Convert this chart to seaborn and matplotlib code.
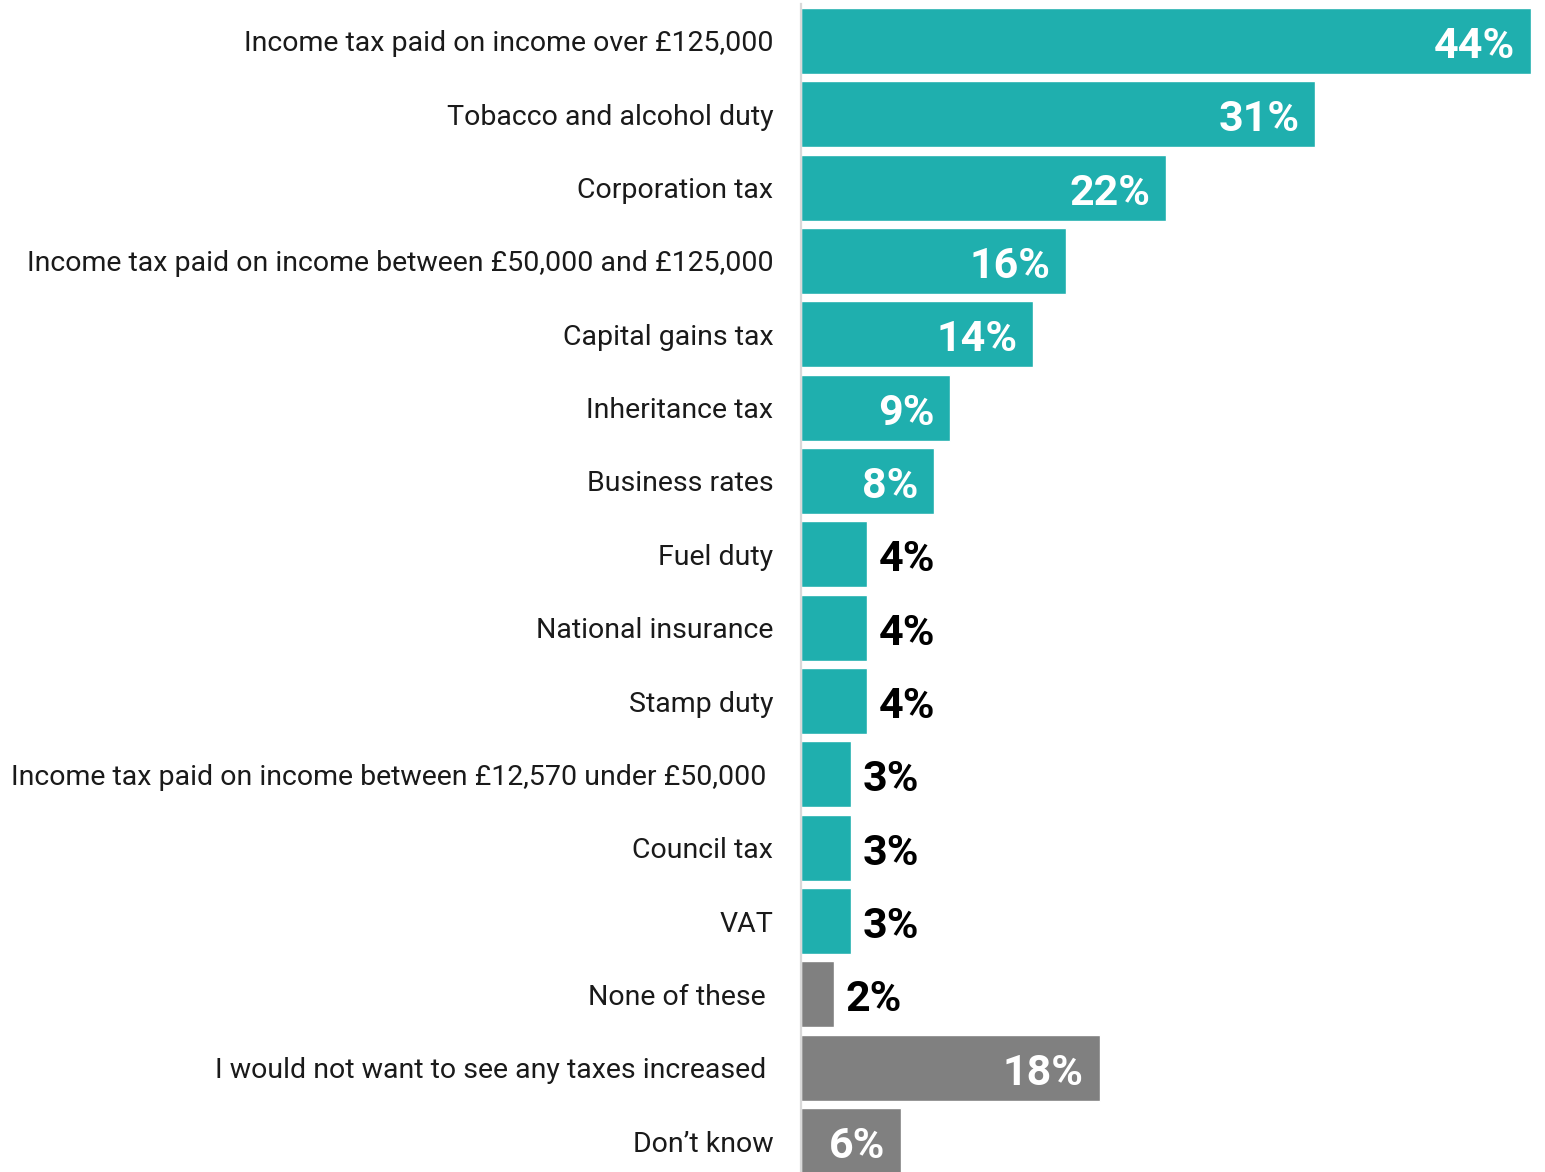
import matplotlib
matplotlib.use("Agg")
import matplotlib.pyplot as plt
import seaborn as sns
import pandas as pd

categories = [
    "Income tax paid on income over £125,000",
    "Tobacco and alcohol duty",
    "Corporation tax",
    "Income tax paid on income between £50,000 and £125,000",
    "Capital gains tax",
    "Inheritance tax",
    "Business rates",
    "Fuel duty",
    "National insurance",
    "Stamp duty",
    "Income tax paid on income between £12,570 under £50,000 ",
    "Council tax",
    "VAT",
    "None of these ",
    "I would not want to see any taxes increased ",
    "Don’t know",
]
values = [44, 31, 22, 16, 14, 9, 8, 4, 4, 4, 3, 3, 3, 2, 18, 6]
groups = ["tax"] * 13 + ["other"] * 3
palette = {"tax": "#1FAFAE", "other": "#808080"}

df = pd.DataFrame({"cat": categories, "val": values, "grp": groups})

sns.set_theme(style="white")
plt.rcParams["font.family"] = ["Roboto", "DejaVu Sans"]

fig = plt.figure(figsize=(15.45, 11.72), dpi=100)
ax = fig.add_axes([801 / 1545, -5.7 / 1172, 730 / 1545, 1173.4 / 1172])

sns.barplot(data=df, x="val", y="cat", hue="grp", palette=palette,
            dodge=False, width=0.9, legend=False, ax=ax, saturation=1)

ax.set_xlim(0, 44)
ax.set_ylim(len(categories) - 0.5, -0.5)
ax.set_xlabel("")
ax.set_ylabel("")
ax.set_xticks([])
ax.tick_params(axis="y", length=0, pad=20, labelsize=20.5, labelcolor="#1a1a1a")
for s in ["top", "right", "bottom"]:
    ax.spines[s].set_visible(False)
ax.spines["left"].set_color("#d9d9d9")
ax.spines["left"].set_linewidth(1.6)

for i, v in enumerate(values):
    if v >= 5:
        ax.text(v - 0.95, i + 0.23, f"{v}%", ha="right", va="baseline", color="white",
                fontsize=31, fontweight="bold")
    else:
        ax.text(v + 0.7, i + 0.23, f"{v}%", ha="left", va="baseline", color="black",
                fontsize=31, fontweight="bold")

fig.savefig("out.png", dpi=100)
